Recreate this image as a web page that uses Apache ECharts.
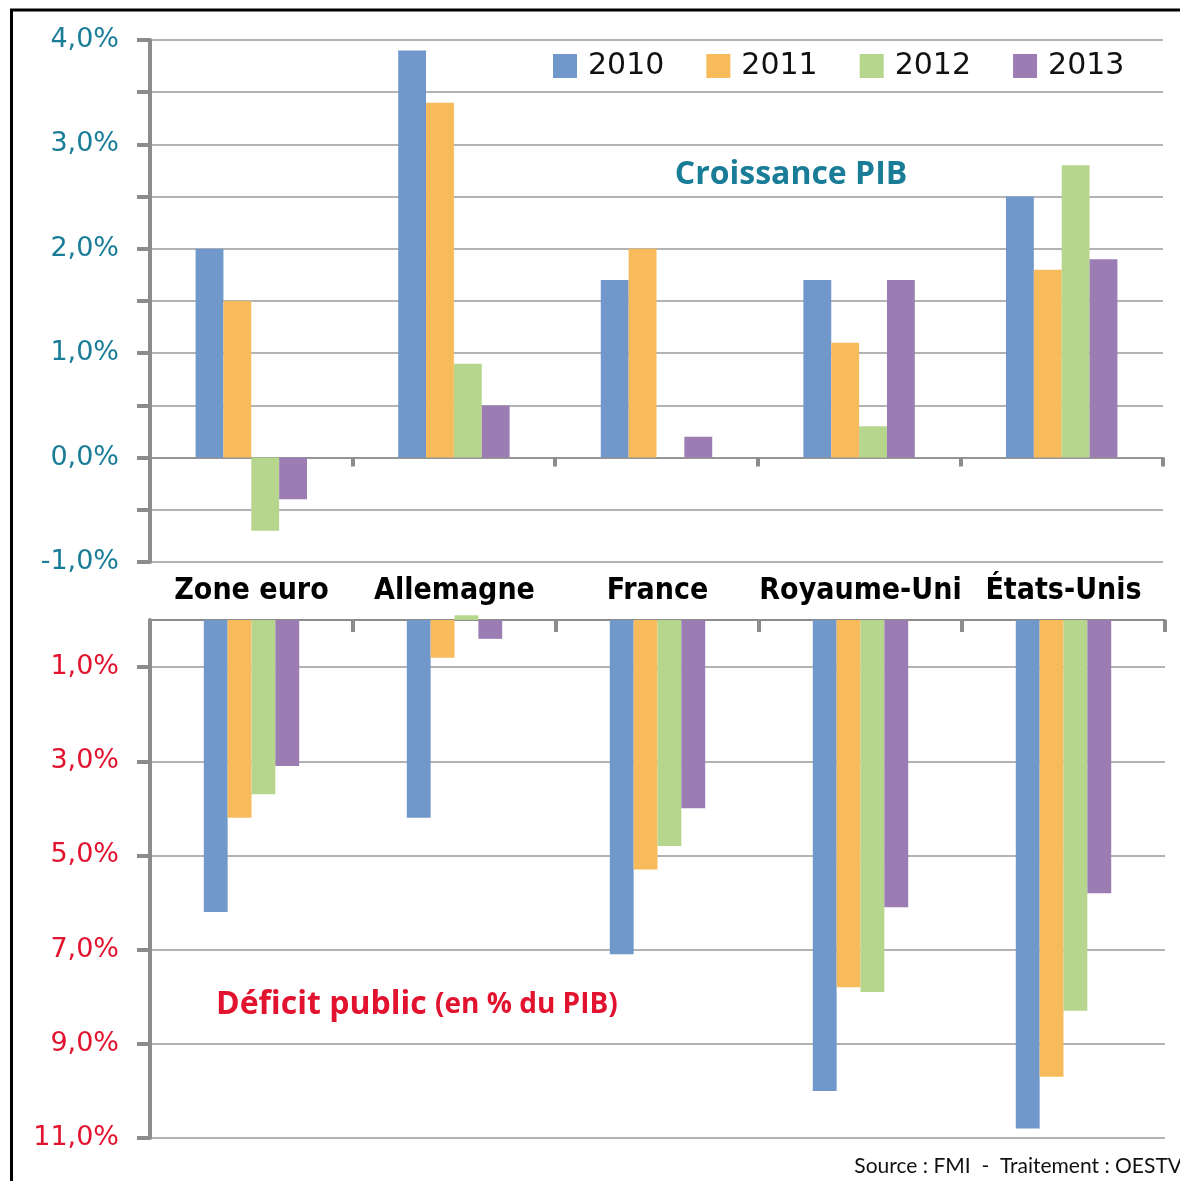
<!DOCTYPE html>
<html>
<head>
<meta charset="utf-8">
<script src="https://cdn.jsdelivr.net/npm/echarts@6/dist/echarts.min.js"></script>
<style>
  html, body { margin: 0; padding: 0; background: #fff; }
  #chart { width: 1180px; height: 1181px; }
</style>
</head>
<body>
<div id="chart"></div>
<script>
// pays et années
const countries = ['Zone euro', 'Allemagne', 'France', 'Royaume-Uni', 'États-Unis']
const years = ['2010', '2011', '2012', '2013']

// croissance du PIB (%)
const growth2010 = [2.0, 3.9, 1.7, 1.7, 2.5]
const growth2011 = [1.5, 3.4, 2.0, 1.1, 1.8]
const growth2012 = [-0.7, 0.9, 0, 0.3, 2.8]
const growth2013 = [-0.4, 0.5, 0.2, 1.7, 1.9]

// déficit public (% du PIB)
const deficit2010 = [6.2, 4.2, 7.1, 10.0, 10.8]
const deficit2011 = [4.2, 0.8, 5.3, 7.8, 9.7]
const deficit2012 = [3.7, -0.1, 4.8, 7.9, 8.3]
const deficit2013 = [3.1, 0.4, 4.0, 6.1, 5.8]

const deficitTicks = [1, 3, 5, 7, 9, 11]

const colors = ['#7098CB', '#F8BB5B', '#B7D68D', '#9B7DB4']
const teal = '#1A7D98'
const red = '#E2132F'
const gray = '#8C8C8C'

const pct = (v) => v.toFixed(1).replace('.', ',') + '%'

const chart = echarts.init(document.getElementById('chart'))

const growthSeries = [growth2010, growth2011, growth2012, growth2013].map((d, i) => ({
  name: years[i],
  type: 'bar',
  xAxisIndex: 0,
  yAxisIndex: 0,
  data: d,
  barGap: '0%',
  barCategoryGap: '45%',
  itemStyle: { color: colors[i] }
}))

const deficitSeries = [deficit2010, deficit2011, deficit2012, deficit2013].map((d, i) => ({
  name: years[i],
  type: 'bar',
  xAxisIndex: 1,
  yAxisIndex: 1,
  data: d,
  clip: false,
  barGap: '0%',
  barCategoryGap: '53%',
  itemStyle: { color: colors[i] }
}))

const option = {
  animation: false,
  backgroundColor: '#fff',
  color: colors,
  legend: {
    data: years,
    left: 553,
    top: 51,
    padding: 0,
    itemWidth: 24,
    itemHeight: 24,
    itemGap: 42,
    icon: 'rect',
    textStyle: {
      fontFamily: 'DejaVu Sans',
      fontSize: 30,
      color: '#111',
      padding: [0, 0, 0, 6]
    }
  },
  grid: [
    { left: 150, right: 17, top: 40, height: 522 },
    { left: 150, right: 15, top: 620, height: 518 }
  ],
  xAxis: [
    {
      gridIndex: 0,
      type: 'category',
      data: countries,
      axisLine: { onZero: true, lineStyle: { color: gray, width: 1.5 } },
      axisTick: { show: true, interval: 0, length: 9, lineStyle: { color: gray, width: 4 } },
      axisLabel: { show: false }
    },
    {
      gridIndex: 1,
      type: 'category',
      data: countries,
      position: 'top',
      axisLine: { onZero: false, lineStyle: { color: gray, width: 2 } },
      axisTick: { show: true, interval: 0, inside: true, length: 12, lineStyle: { color: gray, width: 4 } },
      axisLabel: {
        interval: 0,
        margin: 14,
        color: '#000',
        fontFamily: 'DejaVu Sans Condensed',
        fontWeight: 'bold',
        fontSize: 30
      }
    }
  ],
  yAxis: [
    {
      gridIndex: 0,
      type: 'value',
      min: -1,
      max: 4,
      interval: 0.5,
      axisLine: { show: true, lineStyle: { color: gray, width: 4 } },
      axisTick: { show: true, length: 13, lineStyle: { color: gray, width: 4 } },
      axisLabel: {
        margin: 31,
        color: teal,
        fontFamily: 'DejaVu Sans',
        fontSize: 27,
        formatter: (v) => (Number.isInteger(v) ? pct(v) : '')
      },
      splitLine: { lineStyle: { color: '#9A9A9A', width: 1.5 } }
    },
    {
      gridIndex: 1,
      type: 'value',
      min: 0,
      max: 11,
      interval: 1,
      inverse: true,
      axisLine: { show: true, lineStyle: { color: gray, width: 4 } },
      axisTick: { show: true, length: 13, customValues: deficitTicks, lineStyle: { color: gray, width: 4 } },
      axisLabel: {
        margin: 31,
        color: red,
        fontFamily: 'DejaVu Sans',
        fontSize: 27,
        customValues: deficitTicks,
        formatter: (v) => pct(v)
      },
      splitLine: { lineStyle: { color: '#9A9A9A', width: 1.5 } }
    }
  ],
  graphic: [
    {
      type: 'line',
      shape: { x1: 10, y1: 10, x2: 1180, y2: 10 },
      style: { stroke: '#000', lineWidth: 3 }
    },
    {
      type: 'line',
      shape: { x1: 11.5, y1: 10, x2: 11.5, y2: 1181 },
      style: { stroke: '#000', lineWidth: 3 }
    },
    {
      type: 'text',
      x: 791,
      y: 175,
      style: {
        text: 'Croissance PIB',
        fill: teal,
        font: 'bold 32px "Open Sans"',
        align: 'center',
        verticalAlign: 'middle'
      }
    },
    {
      type: 'text',
      x: 216,
      y: 1005,
      style: {
        text: '{a|Déficit public }{b|(en % du PIB)}',
        verticalAlign: 'middle',
        rich: {
          a: { fill: red, font: 'bold 32px "Open Sans"' },
          b: { fill: red, font: 'bold 28px "Open Sans"' }
        }
      }
    },
    {
      type: 'text',
      x: 1182,
      y: 1166,
      style: {
        text: 'Source : FMI  -  Traitement : OESTV',
        fill: '#111',
        font: '21px Lato',
        align: 'right',
        verticalAlign: 'middle'
      }
    }
  ],
  series: [...growthSeries, ...deficitSeries]
}

chart.setOption(option)

window.addEventListener('resize', () => chart.resize())
</script>
</body>
</html>
